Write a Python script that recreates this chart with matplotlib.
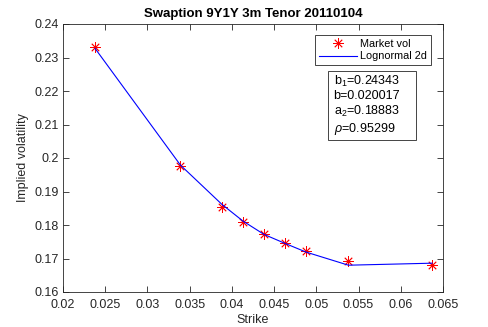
import matplotlib
matplotlib.use('Agg')
import matplotlib.pyplot as plt
from matplotlib.patches import Rectangle

plt.rcParams['font.family'] = ['Liberation Sans', 'DejaVu Sans']
plt.rcParams['mathtext.fontset'] = 'custom'
plt.rcParams['mathtext.rm'] = 'Liberation Sans'
plt.rcParams['mathtext.it'] = 'Liberation Sans:italic'

# market quotes
strike = [0.0238, 0.0339, 0.0388, 0.0413, 0.0438, 0.0463, 0.0488, 0.0538, 0.0637]
market_vol = [0.2330, 0.1976, 0.1855, 0.1810, 0.1773, 0.1745, 0.1722, 0.1692, 0.1680]
# fitted lognormal 2d
model_vol = [0.2327, 0.1979, 0.1862, 0.1812, 0.1772, 0.1745, 0.1719, 0.1680, 0.1686]

xticks = [0.02, 0.025, 0.03, 0.035, 0.04, 0.045, 0.05, 0.055, 0.06, 0.065]
xticklabels = ['0.02', '0.025', '0.03', '0.035', '0.04', '0.045', '0.05', '0.055', '0.06', '0.065']
yticks = [0.16, 0.17, 0.18, 0.19, 0.2, 0.21, 0.22, 0.23, 0.24]
yticklabels = ['0.16', '0.17', '0.18', '0.19', '0.2', '0.21', '0.22', '0.23', '0.24']

params = r'b$_1$=0.24343' + '\n' + 'b=0.020017' + '\n' + r'a$_2$=0.18883' + '\n' + r'$\it{\rho}$=0.95299'

fig = plt.figure(figsize=(4.88, 3.27), dpi=100)
ax = fig.add_axes([63 / 488, 35 / 327, 380 / 488, 268 / 327])

ax.plot(strike, market_vol, linestyle='none', marker=(8, 2, 0), markersize=7.5,
        color='red', markeredgewidth=0.6, label='Market vol')
ax.plot(strike, model_vol, color='blue', linewidth=0.8, label='Lognormal 2d')

ax.set_xlim(0.02, 0.065)
ax.set_ylim(0.16, 0.24)
ax.set_xticks(xticks)
ax.set_xticklabels(xticklabels)
ax.set_yticks(yticks)
ax.set_yticklabels(yticklabels)
ax.tick_params(direction='in', top=True, right=True, labelsize=9, length=4,
               width=0.6, colors='#262626')
ax.tick_params(axis='x', pad=5)
ax.tick_params(axis='y', pad=3)
for s in ax.spines.values():
    s.set_linewidth(0.6)
    s.set_color('#262626')

ax.set_xlabel('Strike', fontsize=9, color='#262626', labelpad=2)
ax.set_ylabel('Implied volatility', fontsize=9, color='#262626', labelpad=4)
ax.set_title('Swaption 9Y1Y 3m Tenor 20110104', fontsize=9.5, fontweight='bold', pad=5)

leg = ax.legend(loc='upper right', bbox_to_anchor=(0.968, 0.959), fontsize=7.8,
                frameon=True, fancybox=False, edgecolor='#262626', framealpha=1,
                handlelength=3.5, borderpad=0.35, labelspacing=0.25, handletextpad=0.3,
                borderaxespad=0)
leg.get_frame().set_linewidth(0.6)

# parameter box
ax.add_patch(Rectangle((0.697, 0.567), 0.232, 0.258, transform=ax.transAxes,
                       facecolor='white', edgecolor='#262626', linewidth=0.6, zorder=5))
ax.text(0.712, 0.815, params, transform=ax.transAxes, fontsize=9, va='top', ha='left',
        linespacing=1.18, zorder=6)

fig.savefig('out.png', dpi=100)
